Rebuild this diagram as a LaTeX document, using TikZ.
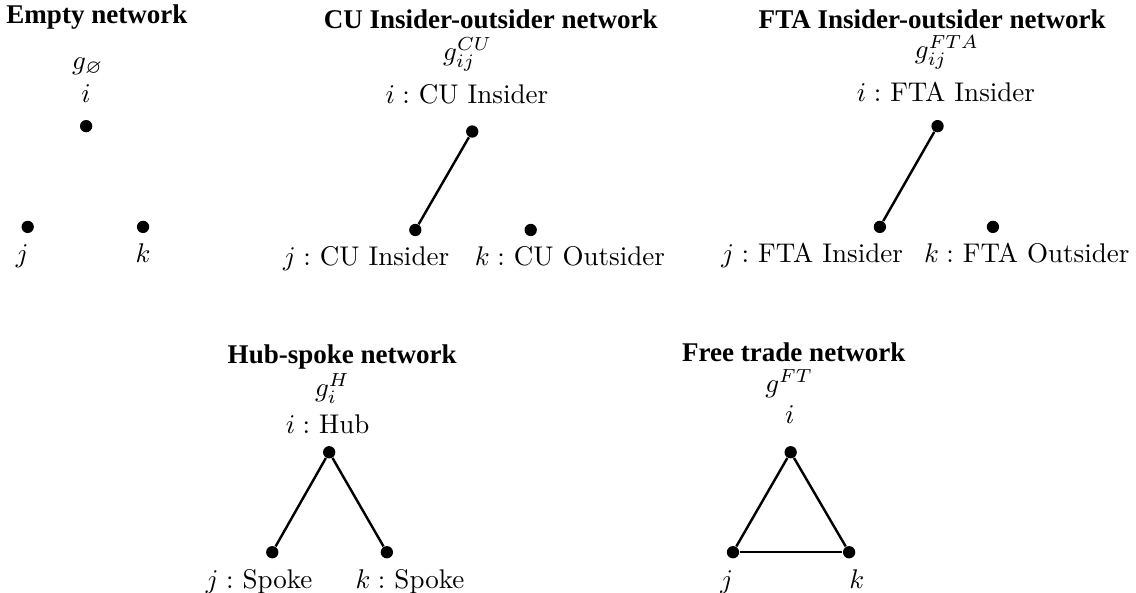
\documentclass[tikz,border=0pt]{standalone}
\usepackage{amsmath,amssymb}
\usepackage{fontspec}
\newfontfamily\titlefont{Liberation Serif}
\usepackage{tikz}

\begin{document}
\begin{tikzpicture}[
	dot/.style={shape=circle,fill=black,inner sep=0pt,minimum size=0.16cm},
	ttl/.style={anchor=base,inner sep=1pt,font=\titlefont\bfseries},
	lbl/.style={anchor=base,inner sep=1pt},
	link/.style={line width=0.9pt}]
	\useasboundingbox (0,0) rectangle (14.77,7.70);
	% empty network
	\node[ttl] (T1) at (1.26,7.40) {Empty network};
	\node[lbl] (G1) at (1.14,6.80) {$g_{\varnothing}$};
	\node[lbl] (LI1) at (1.12,6.37) {$i$};
	\node[dot] (I1) at (1.12,6.06) {};
	\node[dot] (J1) at (0.36,4.75) {};
	\node[dot] (K1) at (1.86,4.75) {};
	\node[lbl] (LJ1) at (0.29,4.29) {$j$};
	\node[lbl] (LK1) at (1.86,4.29) {$k$};
	% CU insider-outsider
	\node[ttl] (T2) at (6.38,7.33) {CU Insider-outsider network};
	\node[lbl] (G2) at (6.08,6.91) {$g_{ij}^{CU}$};
	\node[lbl] (LI2) at (6.07,6.35) {$i:$ CU Insider};
	\node[dot] (I2) at (6.14,5.99) {};
	\node[dot] (J2) at (5.40,4.71) {};
	\node[dot] (K2) at (6.90,4.71) {};
	\node[lbl] (LJ2) at (4.76,4.25) {$j:$ CU Insider};
	\node[lbl] (LK2) at (7.41,4.25) {$k:$ CU Outsider};
	\path [link] (I2) edge (J2);
	% FTA insider-outsider
	\node[ttl] (T3) at (12.12,7.33) {FTA Insider-outsider network};
	\node[lbl] (G3) at (12.31,6.94) {$g_{ij}^{FTA}$};
	\node[lbl] (LI3) at (12.30,6.38) {$i:$ FTA Insider};
	\node[dot] (I3) at (12.19,6.06) {};
	\node[dot] (J3) at (11.44,4.75) {};
	\node[dot] (K3) at (12.91,4.75) {};
	\node[lbl] (LJ3) at (10.56,4.29) {$j:$ FTA Insider};
	\node[lbl] (LK3) at (13.35,4.29) {$k:$ FTA Outsider};
	\path [link] (I3) edge (J3);
	% hub-spoke
	\node[ttl] (T4) at (4.45,2.98) {Hub-spoke network};
	\node[lbl] (G4) at (4.32,2.55) {$g_{i}^{H}$};
	\node[lbl] (LI4) at (4.26,2.06) {$i:$ Hub};
	\node[dot] (I4) at (4.28,1.82) {};
	\node[dot] (J4) at (3.54,0.52) {};
	\node[dot] (K4) at (5.03,0.52) {};
	\node[lbl] (LJ4) at (3.37,0.05) {$j:$ Spoke};
	\node[lbl] (LK4) at (5.33,0.05) {$k:$ Spoke};
	\path [link] (I4) edge (J4);
	\path [link] (I4) edge (K4);
	% free trade
	\node[ttl] (T5) at (10.32,3.00) {Free trade network};
	\node[lbl] (G5) at (10.26,2.60) {$g^{FT}$};
	\node[lbl] (LI5) at (10.27,2.20) {$i$};
	\node[dot] (I5) at (10.28,1.82) {};
	\node[dot] (J5) at (9.53,0.52) {};
	\node[dot] (K5) at (11.04,0.52) {};
	\node[lbl] (LJ5) at (9.45,0.05) {$j$};
	\node[lbl] (LK5) at (11.14,0.05) {$k$};
	\path [link] (I5) edge (J5);
	\path [link] (I5) edge (K5);
	\path [link] (J5) edge (K5);
\end{tikzpicture}
\end{document}
